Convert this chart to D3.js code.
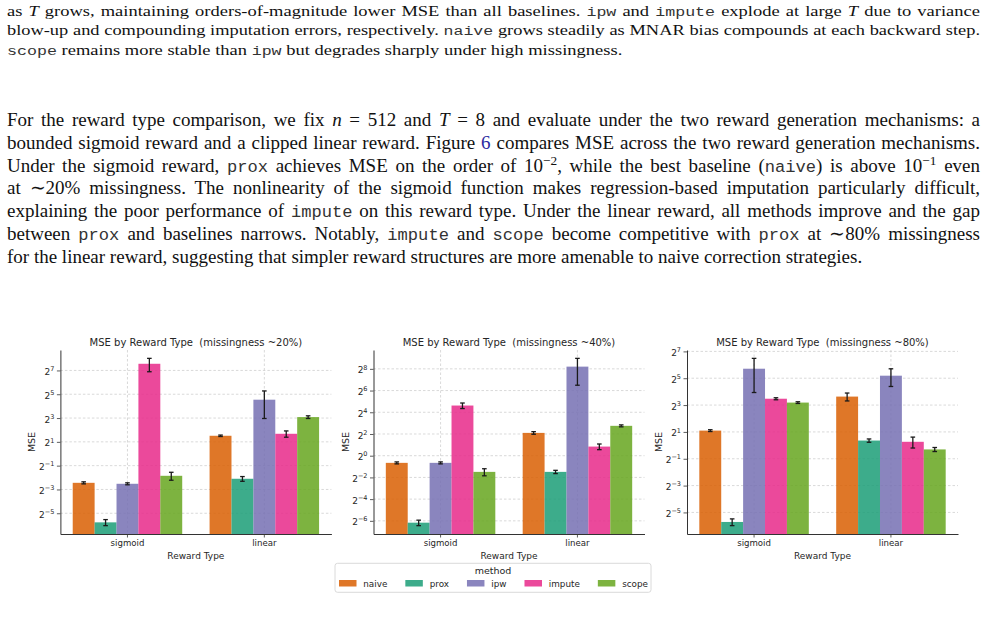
<!DOCTYPE html>
<html>
<head>
<meta charset="utf-8">
<script src="https://cdn.jsdelivr.net/npm/d3@7"></script>
<style>
  body { margin: 0; background: #fff; width: 988px; height: 629px; overflow: hidden; position: relative; }
  .ln { position: absolute; left: 7px; width: 973px; font-family: "Liberation Serif", "Times New Roman", serif;
        font-size: 19px; line-height: 1; color: #111; text-align: justify; text-align-last: justify; }
  .ln.last { text-align-last: left; }
  .p1 { transform: scaleY(0.8); transform-origin: 0 15.5px; }
  .tt { font-family: "Liberation Mono", monospace; font-size: 0.9em; color: #333; }
  .lnk { color: #2a2aa0; }
  sup { font-size: 0.7em; vertical-align: 0.5em; line-height: 0; }
  svg { position: absolute; left: 0; top: 0; }
  svg text { font-family: "DejaVu Sans", sans-serif; fill: #262626; white-space: pre; }
</style>
</head>
<body>
<script>
// Tekst
var para1 = [
  'as <i>T</i> grows, maintaining orders-of-magnitude lower MSE than all baselines. <span class="tt">ipw</span> and <span class="tt">impute</span> explode at large <i>T</i> due to variance',
  'blow-up and compounding imputation errors, respectively. <span class="tt">naive</span> grows steadily as MNAR bias compounds at each backward step.',
  '<span class="tt">scope</span> remains more stable than <span class="tt">ipw</span> but degrades sharply under high missingness.'
];
var para2 = [
  'For the reward type comparison, we fix <i>n</i> = 512 and <i>T</i> = 8 and evaluate under the two reward generation mechanisms: a',
  'bounded sigmoid reward and a clipped linear reward. Figure <span class="lnk">6</span> compares MSE across the two reward generation mechanisms.',
  'Under the sigmoid reward, <span class="tt">prox</span> achieves MSE on the order of 10<sup>\u22122</sup>, while the best baseline (<span class="tt">naive</span>) is above 10<sup>\u22121</sup> even',
  'at \u223C20% missingness. The nonlinearity of the sigmoid function makes regression-based imputation particularly difficult,',
  'explaining the poor performance of <span class="tt">impute</span> on this reward type. Under the linear reward, all methods improve and the gap',
  'between <span class="tt">prox</span> and baselines narrows. Notably, <span class="tt">impute</span> and <span class="tt">scope</span> become competitive with <span class="tt">prox</span> at \u223C80% missingness',
  'for the linear reward, suggesting that simpler reward structures are more amenable to naive correction strategies.'
];

// Data (MSE middelværdi og standardafvigelse pr. [belønningstype][metode])
var categories = ["sigmoid", "linear"];
var methods = ["naive", "prox", "ipw", "impute", "scope"];
var colors = ["#d95f02", "#1b9e77", "#7570b3", "#e7298a", "#66a61e"];
var titles = ["MSE by Reward Type  (missingness ~20%)", "MSE by Reward Type  (missingness ~40%)", "MSE by Reward Type  (missingness ~80%)"];

var mse20 = [[0.184, 0.0184, 0.174, 188.7, 0.277], [2.85, 0.233, 23.3, 3.2, 8.46]];
var err20 = [[0.011, 0.0032, 0.010, 70, 0.063], [0.12, 0.032, 15.5, 0.58, 0.65]];
var mse40 = [[0.633, 0.0139, 0.633, 24.6, 0.356], [4.29, 0.356, 295, 1.79, 6.73]];
var err40 = [[0.04, 0.0024, 0.04, 4.3, 0.079], [0.36, 0.037, 205, 0.32, 0.42]];
var mse80 = [[2.14, 0.0191, 52.3, 11.1, 9.1], [12.4, 1.28, 36.5, 1.2, 0.81]];
var err80 = [[0.1, 0.0033, 37, 0.58, 0.4], [2.5, 0.11, 15.6, 0.33, 0.084]];

// Tick-eksponenter (2^k)
var ticks20 = [-5, -3, -1, 1, 3, 5, 7];
var ticks40 = [-6, -4, -2, 0, 2, 4, 6, 8];
var ticks80 = [-5, -3, -1, 1, 3, 5, 7];

var panels = [
  {title: titles[0], mse: mse20, err: err20, ticks: ticks20},
  {title: titles[1], mse: mse40, err: err40, ticks: ticks40},
  {title: titles[2], mse: mse80, err: err80, ticks: ticks80}
];

// Tekstlinjer
var body = d3.select("body");

function addLine(h, baseline, cls, fs) {
  var div = body.append("div").attr("class", cls).style("font-size", fs + "px").html(h);
  // mål naturlig bredde, krymp hvis linjen ellers ville bryde
  div.style("width", "auto").style("white-space", "nowrap");
  var w = div.node().getBoundingClientRect().width;
  div.style("width", null).style("white-space", null);
  if (w > 971) {
    fs = fs * 971 / w;
    div.style("font-size", fs + "px");
  }
  div.style("top", (baseline - 0.8375 * fs) + "px");
}

para1.forEach(function(h, i) {
  addLine(h, 16 + i * 19.5, i < para1.length - 1 ? "ln p1" : "ln p1 last", 18.5);
});
para2.forEach(function(h, i) {
  addLine(h, 126 + i * 22.8, i < para2.length - 1 ? "ln" : "ln last", 19);
});

// Layout
var panelLeft = [60.4, 373.5, 687];
var axW = 271;
var axTop = 350, axBottom = 534;

var svg = body.append("svg").attr("width", 988).attr("height", 629);

function supText(e) {
  return e < 0 ? "\u2212" + (-e) : String(e);
}

panels.forEach(function(p, k) {
  var left = panelLeft[k];
  var g = svg.append("g");

  var rows = [];
  categories.forEach(function(c, ci) {
    methods.forEach(function(m, mi) {
      rows.push({cat: c, method: m, mi: mi, v: p.mse[ci][mi], e: p.err[ci][mi]});
    });
  });

  // Skalaer
  var x = d3.scaleBand().domain(categories).range([left, left + axW]).paddingInner(0.2).paddingOuter(0.09);
  var xm = d3.scaleBand().domain(methods).range([0, x.bandwidth()]);
  var lo = d3.min(rows, function(d) { return Math.log2(d.v - d.e); });
  var hi = d3.max(rows, function(d) { return Math.log2(d.v + d.e); });
  var pad = (hi - lo) * 0.05;
  var y = d3.scaleLog().base(2).domain([Math.pow(2, lo - pad), Math.pow(2, hi + pad)]).range([axBottom, axTop]);
  var tickVals = p.ticks.map(function(t) { return Math.pow(2, t); });

  // Gitterlinjer
  g.selectAll(".hgrid").data(tickVals).enter().append("line")
    .attr("x1", left).attr("x2", left + axW)
    .attr("y1", function(d) { return y(d); }).attr("y2", function(d) { return y(d); })
    .attr("stroke", "#c8c8c8").attr("stroke-width", 0.7).attr("stroke-dasharray", "2.5,2");
  g.selectAll(".vgrid").data(categories).enter().append("line")
    .attr("x1", function(d) { return x(d) + x.bandwidth() / 2; })
    .attr("x2", function(d) { return x(d) + x.bandwidth() / 2; })
    .attr("y1", axTop).attr("y2", axBottom)
    .attr("stroke", "#c8c8c8").attr("stroke-width", 0.7).attr("stroke-dasharray", "2.5,2");

  // Søjler
  g.selectAll(".bar").data(rows).enter().append("rect")
    .attr("x", function(d) { return x(d.cat) + xm(d.method); })
    .attr("y", function(d) { return y(d.v); })
    .attr("width", xm.bandwidth())
    .attr("height", function(d) { return axBottom - y(d.v); })
    .attr("fill", function(d) { return colors[d.mi]; })
    .attr("fill-opacity", 0.85);

  // Fejlstreger
  var eb = g.selectAll(".err").data(rows).enter().append("g").attr("stroke", "#1a1a1a").attr("stroke-width", 1.3);
  function cx(d) { return x(d.cat) + xm(d.method) + xm.bandwidth() / 2; }
  eb.append("line")
    .attr("x1", cx).attr("x2", cx)
    .attr("y1", function(d) { return y(d.v - d.e); })
    .attr("y2", function(d) { return y(d.v + d.e); });
  [-1, 1].forEach(function(s) {
    eb.append("line")
      .attr("x1", function(d) { return cx(d) - 2.3; })
      .attr("x2", function(d) { return cx(d) + 2.3; })
      .attr("y1", function(d) { return y(d.v + s * d.e); })
      .attr("y2", function(d) { return y(d.v + s * d.e); });
  });

  // Akser
  var gy = g.append("g").attr("transform", "translate(" + left + ",0)")
    .call(d3.axisLeft(y).tickValues(tickVals).tickSize(3.5).tickSizeOuter(0).tickPadding(2.5));
  gy.selectAll(".tick text").each(function(d) {
    var t = d3.select(this).text("2").attr("font-size", "9px").attr("dy", "0.45em");
    t.append("tspan").attr("dy", "-0.6em").attr("font-size", "6.5px").text(supText(Math.round(Math.log2(d))));
  });

  var gx = g.append("g").attr("transform", "translate(0," + axBottom + ")")
    .call(d3.axisBottom(x).tickSize(3.5).tickSizeOuter(0).tickPadding(2));
  gx.selectAll(".tick text").attr("font-size", "8.6px");

  [gx, gy].forEach(function(a) {
    a.attr("font-family", null).attr("font-size", null);
    a.select(".domain").attr("stroke", "#333").attr("stroke-width", 1);
    a.selectAll(".tick line").attr("stroke", "#333").attr("stroke-width", 0.8);
  });

  // Titler og aksetekster
  g.append("text").attr("x", left + axW / 2).attr("y", 345.5).attr("text-anchor", "middle")
    .attr("font-size", "10px").text(p.title);
  g.append("text").attr("x", left + axW / 2).attr("y", 558.5).attr("text-anchor", "middle")
    .attr("font-size", "9px").text("Reward Type");
  g.append("text").attr("transform", "translate(" + (left - 25) + "," + ((axTop + axBottom) / 2) + ") rotate(-90)")
    .attr("text-anchor", "middle").attr("font-size", "9.5px").text("MSE");
});

// Legende
var leg = svg.append("g");
leg.append("rect").attr("x", 335).attr("y", 563.3).attr("width", 316).attr("height", 29).attr("rx", 2.5)
  .attr("fill", "#fff").attr("stroke", "#d0d0d0").attr("stroke-width", 0.8);
leg.append("text").attr("x", 493).attr("y", 574).attr("text-anchor", "middle").attr("font-size", "9.5px").text("method");
var lx = 339;
methods.forEach(function(m, i) {
  leg.append("rect").attr("x", lx).attr("y", 580).attr("width", 17.5).attr("height", 6.5)
    .attr("fill", colors[i]).attr("fill-opacity", 0.85);
  var t = leg.append("text").attr("x", lx + 24.3).attr("y", 587).attr("font-size", "8.8px").text(m);
  lx = lx + 24.3 + t.node().getComputedTextLength() + 18;
});
</script>
</body>
</html>
